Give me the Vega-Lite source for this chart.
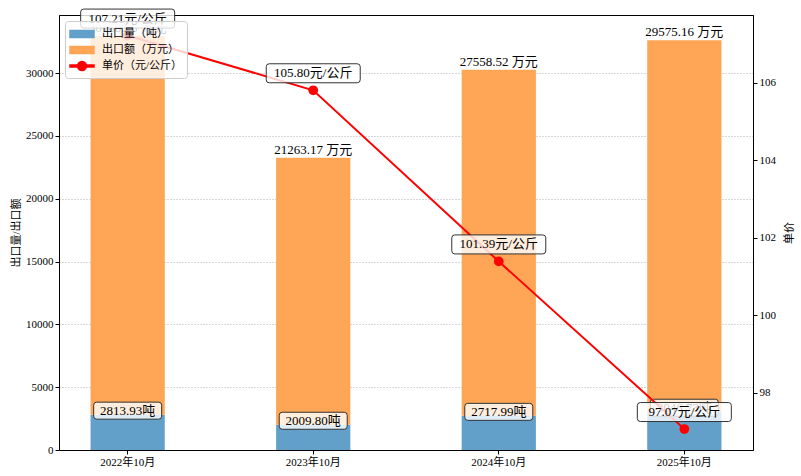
{
  "$schema": "https://vega.github.io/schema/vega-lite/v6.json",
  "width": 694,
  "height": 435,
  "autosize": {"type": "none"},
  "padding": {"left": 59, "top": 15, "right": 48, "bottom": 26},
  "background": "white",
  "config": {
    "font": "'Liberation Serif', 'Noto Sans CJK SC'",
    "view": {"stroke": "black", "strokeWidth": 1},
    "axis": {
      "domainColor": "black",
      "tickColor": "black",
      "labelColor": "black",
      "titleColor": "black",
      "labelFontSize": 11,
      "titleFontSize": 11,
      "titleFontWeight": "normal",
      "tickSize": 4,
      "labelFont": "'Liberation Serif', 'Noto Sans CJK SC'",
      "titleFont": "'Liberation Serif', 'Noto Sans CJK SC'"
    },
    "legend": {
      "labelFont": "'Liberation Serif', 'Noto Sans CJK SC'"
    }
  },
  "datasets": {
    "bars": [
      {"month": "2022年10月", "series": "出口量（吨）", "value": 2813.93},
      {"month": "2022年10月", "series": "出口额（万元）", "value": 30168.16},
      {"month": "2023年10月", "series": "出口量（吨）", "value": 2009.80},
      {"month": "2023年10月", "series": "出口额（万元）", "value": 21263.17},
      {"month": "2024年10月", "series": "出口量（吨）", "value": 2717.99},
      {"month": "2024年10月", "series": "出口额（万元）", "value": 27558.52},
      {"month": "2025年10月", "series": "出口量（吨）", "value": 3046.73},
      {"month": "2025年10月", "series": "出口额（万元）", "value": 29575.16}
    ],
    "price": [
      {"month": "2022年10月", "price": 107.21},
      {"month": "2023年10月", "price": 105.80},
      {"month": "2024年10月", "price": 101.39},
      {"month": "2025年10月", "price": 97.07}
    ]
  },
  "encoding": {
    "x": {
      "field": "month",
      "type": "nominal",
      "scale": {"paddingInner": 0.6, "paddingOuter": 0.17},
      "axis": {"title": null, "labelAngle": 0, "bandPosition": 0.5, "grid": false}
    }
  },
  "layer": [
    {
      "layer": [
        {
          "data": {"name": "bars"},
          "mark": {"type": "bar"},
          "encoding": {
            "y": {
              "field": "value",
              "type": "quantitative",
              "stack": "zero",
              "scale": {"domain": [0, 34630], "nice": false},
              "axis": {
                "title": "出口量/出口额",
                "values": [0, 5000, 10000, 15000, 20000, 25000, 30000],
                "format": "d",
                "grid": true,
                "gridDash": [1, 2],
                "gridColor": "#b0b0b0"
              }
            },
            "color": {
              "field": "series",
              "type": "nominal",
              "scale": {
                "domain": ["出口量（吨）", "出口额（万元）", "单价（元/公斤）"],
                "range": ["#62a0ca", "#ffa556", "#ff0000"]
              },
              "legend": {
                "title": null,
                "orient": "top-left",
                "offset": 6,
                "padding": 4,
                "fillColor": "rgba(255,255,255,0.8)",
                "strokeColor": "#cccccc",
                "cornerRadius": 3,
                "labelFontSize": 11,
                "symbolSize": 256,
                "symbolOffset": 4,
                "labelOffset": 11,
                "rowPadding": 0,
                "encode": {
                  "symbols": {
                    "update": {
                      "shape": {"signal": "datum.value === '单价（元/公斤）' ? 'M-1.5,-0.125L1.5,-0.125L1.5,0.125L-1.5,0.125Z M-0.56,0A0.56,0.56 0 1,1 0.56,0A0.56,0.56 0 1,1 -0.56,0Z' : 'M-1.5,-0.45L1.5,-0.45L1.5,0.45L-1.5,0.45Z'"},
                      "fill": {"signal": "scale('color', datum.value)"},
                      "stroke": {"value": "transparent"},
                      "opacity": {"value": 1}
                    }
                  }
                }
              }
            },
            "order": {"field": "series", "sort": "ascending"}
          }
        },
        {
          "data": {"name": "bars"},
          "transform": [
            {"stack": "value", "groupby": ["month"], "sort": [{"field": "series", "order": "ascending"}], "as": ["v0", "v1"]},
            {"filter": "datum.series === '出口额（万元）'"},
            {"calculate": "format(datum.value, '.2f') + ' 万元'", "as": "label"}
          ],
          "mark": {"type": "text", "baseline": "bottom", "fontSize": 13, "yOffset": -1, "color": "black"},
          "encoding": {
            "y": {"field": "v1", "type": "quantitative"},
            "text": {"field": "label"}
          }
        },
        {
          "data": {"name": "bars"},
          "transform": [{"filter": "datum.series === '出口量（吨）'"}],
          "mark": {
            "type": "point",
            "filled": true,
            "size": 10000,
            "shape": "M-0.62,-0.17L0.62,-0.17Q0.68,-0.17 0.68,-0.11L0.68,0.11Q0.68,0.17 0.62,0.17L-0.62,0.17Q-0.68,0.17 -0.68,0.11L-0.68,-0.11Q-0.68,-0.17 -0.62,-0.17Z",
            "fill": "white",
            "fillOpacity": 0.8,
            "stroke": "#333333",
            "strokeWidth": 1,
            "opacity": 1,
            "yOffset": -4
          },
          "encoding": {
            "y": {"field": "value", "type": "quantitative"}
          }
        },
        {
          "data": {"name": "bars"},
          "transform": [
            {"filter": "datum.series === '出口量（吨）'"},
            {"calculate": "format(datum.value, '.2f') + '吨'", "as": "label"}
          ],
          "mark": {"type": "text", "baseline": "middle", "fontSize": 13, "yOffset": -4, "color": "black"},
          "encoding": {
            "y": {"field": "value", "type": "quantitative"},
            "text": {"field": "label"}
          }
        }
      ]
    },
    {
      "data": {"name": "price"},
      "layer": [
        {
          "mark": {"type": "line", "strokeWidth": 2},
          "encoding": {
            "y": {
              "field": "price",
              "type": "quantitative",
              "scale": {"domain": [96.53, 107.74], "nice": false, "zero": false},
              "axis": {
                "orient": "right",
                "title": "单价",
                "titleAngle": 270,
                "titleBaseline": "top",
                "titlePadding": 8,
                "values": [98, 100, 102, 104, 106],
                "grid": false
              }
            },
            "color": {"datum": "单价（元/公斤）", "type": "nominal"}
          }
        },
        {
          "mark": {"type": "circle", "size": 95, "color": "#ff0000", "opacity": 1},
          "encoding": {
            "y": {"field": "price", "type": "quantitative"}
          }
        },
        {
          "mark": {
            "type": "point",
            "filled": true,
            "size": 10000,
            "shape": "M-0.88,-0.19L0.88,-0.19Q0.94,-0.19 0.94,-0.13L0.94,0.13Q0.94,0.19 0.88,0.19L-0.88,0.19Q-0.94,0.19 -0.94,0.13L-0.94,-0.13Q-0.94,-0.19 -0.88,-0.19Z",
            "fill": "white",
            "fillOpacity": 0.8,
            "stroke": "#333333",
            "strokeWidth": 1,
            "opacity": 1,
            "yOffset": -17
          },
          "encoding": {
            "y": {"field": "price", "type": "quantitative"}
          }
        },
        {
          "transform": [{"calculate": "format(datum.price, '.2f') + '元/公斤'", "as": "label"}],
          "mark": {"type": "text", "baseline": "middle", "fontSize": 13, "yOffset": -17, "color": "black"},
          "encoding": {
            "y": {"field": "price", "type": "quantitative"},
            "text": {"field": "label"}
          }
        }
      ]
    }
  ],
  "resolve": {"scale": {"y": "independent"}}
}
